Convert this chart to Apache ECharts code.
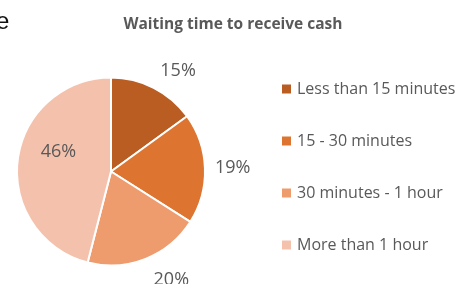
<!DOCTYPE html>
<html lang="en">
<head>
<meta charset="UTF-8"/>
<title>Waiting time to receive cash</title>
<script src="https://cdn.jsdelivr.net/npm/echarts@6/dist/echarts.min.js"></script>
<style>
  html, body { margin: 0; padding: 0; background: #fff; }
  #main { width: 457px; height: 284px; }
</style>
</head>
<body>
<div id="main"></div>
<script>
// chart data
var categories = ['Less than 15 minutes', '15 - 30 minutes', '30 minutes - 1 hour', 'More than 1 hour'];
var shares = [15, 19, 20, 46];
var colors = ['#BA5D22', '#DD7530', '#EE9B6D', '#F4C1AD'];

// nudges so the labels sit where the original chart put them
var labelNudge = [[-2, -10], [-3, 0], [0, 14], [-3, -13]];

var myChart = echarts.init(document.getElementById('main'));

var pieData = categories.map(function (name, i) {
    var item = {
        name: name,
        value: shares[i],
        itemStyle: { color: colors[i] },
        label: { offset: labelNudge[i] }
    };
    if (i === 3) {
        // the big slice carries its label inside
        item.label.position = 'inside';
    }
    return item;
});

var option = {
    animation: false,
    textStyle: { fontFamily: 'Open Sans' },
    title: [{
        text: 'Waiting time to receive cash',
        left: 228,
        top: 12,
        textAlign: 'center',
        textStyle: { fontSize: 15.5, fontWeight: 'bold', color: '#595959', fontFamily: 'Open Sans' }
    }, {
        // cut-off letter from the surrounding page
        text: 'e',
        left: -9,
        top: 5,
        textStyle: { fontSize: 24, fontWeight: 'normal', color: '#111', fontFamily: 'Liberation Sans' }
    }],
    legend: {
        orient: 'vertical',
        left: 275,
        top: 74,
        itemWidth: 11,
        itemHeight: 11,
        itemGap: 32,
        icon: 'rect',
        data: categories,
        textStyle: { fontSize: 16, color: '#595959', lineHeight: 20, fontFamily: 'Open Sans' }
    },
    series: [{
        type: 'pie',
        center: [111, 171.5],
        radius: 94,
        startAngle: 90,
        clockwise: true,
        avoidLabelOverlap: false,
        itemStyle: { borderColor: '#fff', borderWidth: 2 },
        label: {
            show: true,
            position: 'outside',
            formatter: '{c}%',
            fontSize: 18,
            color: '#595959',
            fontFamily: 'Open Sans'
        },
        labelLine: { show: false, length: 8, length2: 0 },
        data: pieData
    }]
};

myChart.setOption(option);
</script>
</body>
</html>
